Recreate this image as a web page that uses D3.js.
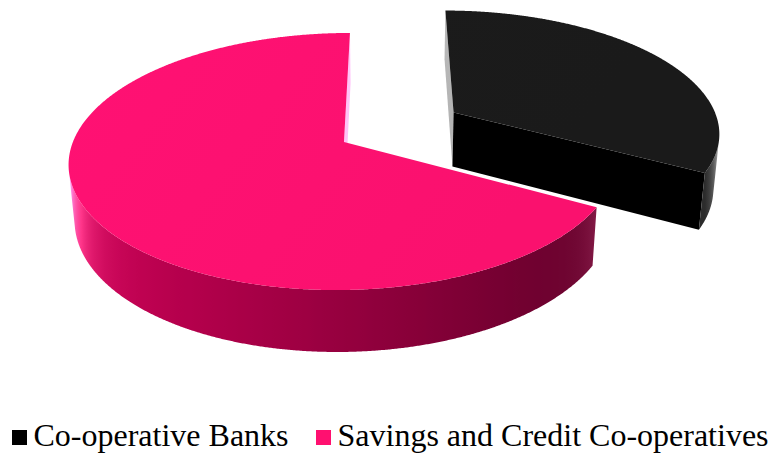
<!DOCTYPE html>
<html>
<head>
<meta charset="utf-8">
<script src="https://cdn.jsdelivr.net/npm/d3@7"></script>
<style>
  html, body { margin: 0; padding: 0; background: #ffffff; }
  svg { display: block; }
</style>
</head>
<body>
<svg id="chart" width="774" height="453"></svg>
<script>
// ---- data -------------------------------------------------------------
const categories = ["Co-operative Banks", "Savings and Credit Co-operatives"];
const shares = [33, 67];
const sliceColors = ["#1b1b1b", "#ff1170"];
const sideBase = ["#000000", "#ff006b"];
const legendColors = ["#000000", "#ff1070"];
const explodeBy = [0.48, 0];

// ---- 3D view ----------------------------------------------------------
const view = {
  vx: 389.5,      // screen x of the camera axis
  vy: 142,        // screen y of the pie centre
  focal: 1583,
  dist: 5.84,
  tilt: 27.6 * Math.PI / 180,
  offsetX: -0.168, // pie centre relative to the camera axis
  thickness: 0.235
};
const sT = Math.sin(view.tilt), cT = Math.cos(view.tilt);
const cam = { x: 0, y: view.dist * sT, z: view.dist * cT };

function project(p) {
  const Y = p.y * cT - p.z * sT;
  const W = p.z * cT + p.y * sT;
  const k = view.focal / (view.dist - W);
  return [view.vx + k * p.x, view.vy - k * Y];
}

// point on a slice: angle a (clockwise from the back), radius r, height h
function worldPoint(s, a, r, h) {
  return { x: view.offsetX + s.dx + r * Math.sin(a), y: h, z: s.dz - r * Math.cos(a) };
}

// simple lighting: key light from the front-left, weak fill from the right,
// plus a white rim where the wall turns away from the eye
const lightMain = 260 * Math.PI / 180;
const lightFill = 70 * Math.PI / 180;
function shade(base, n, p) {
  const V = { x: cam.x - p.x, y: cam.y - p.y, z: cam.z - p.z };
  const len = Math.hypot(V.x, V.y, V.z);
  const ndv = Math.max(0, (n.x * V.x + n.y * V.y + n.z * V.z) / len);
  const ang = Math.atan2(n.x, -n.z);
  const d1 = (1 + Math.cos(ang - lightMain)) / 2;
  const d2 = Math.pow((1 + Math.cos(ang - lightFill)) / 2, 8);
  const b = 0.30 + 0.50 * d1 + 0.25 * d2;
  const rim = 0.9 * Math.pow(1 - ndv, 6);
  const c = d3.rgb(base);
  return d3.rgb(
    Math.min(255, c.r * b + 255 * rim),
    Math.min(255, c.g * b + 255 * rim),
    Math.min(255, c.b * b + 255 * rim)
  ).formatHex();
}
function facing(n, p) {
  return n.x * (cam.x - p.x) + n.y * (cam.y - p.y) + n.z * (cam.z - p.z) > 0;
}

// ---- layout -----------------------------------------------------------
const pie = d3.pie().sort(null).value(d => d)(shares);
const slices = pie.map((d, i) => {
  const mid = (d.startAngle + d.endAngle) / 2;
  return {
    i, a0: d.startAngle, a1: d.endAngle,
    dx: explodeBy[i] * Math.sin(mid),
    dz: -explodeBy[i] * Math.cos(mid)
  };
});

const svg = d3.select("#chart");
const defs = svg.append("defs");
const line = d3.line();
const H = -view.thickness;
const step = Math.PI / 720;

function arcPoints(s, from, to, h) {
  const n = Math.max(2, Math.ceil(Math.abs(to - from) / step));
  return d3.range(n + 1).map(k => from + (to - from) * k / n)
    .map(a => project(worldPoint(s, a, 1, h)));
}

function drawSlice(s) {
  const g = svg.append("g").attr("class", "slice slice-" + s.i);

  // flat cut faces
  [{ a: s.a0, n: { x: -Math.cos(s.a0), y: 0, z: -Math.sin(s.a0) } },
   { a: s.a1, n: { x: Math.cos(s.a1), y: 0, z: Math.sin(s.a1) } }].forEach(f => {
    const mid = worldPoint(s, f.a, 0.5, H / 2);
    if (!facing(f.n, mid)) return;
    const pts = [
      project(worldPoint(s, f.a, 0, 0)),
      project(worldPoint(s, f.a, 1, 0)),
      project(worldPoint(s, f.a, 1, H)),
      project(worldPoint(s, f.a, 0, H))
    ];
    const id = "cut" + s.i + "_" + Math.round(f.a * 1000);
    const gr = defs.append("linearGradient").attr("id", id)
      .attr("gradientUnits", "userSpaceOnUse")
      .attr("x1", pts[0][0]).attr("y1", pts[0][1])
      .attr("x2", pts[1][0]).attr("y2", pts[1][1]);
    gr.append("stop").attr("offset", 0).attr("stop-color", shade(sideBase[s.i], f.n, worldPoint(s, f.a, 0, H / 2)));
    gr.append("stop").attr("offset", 1).attr("stop-color", shade(sideBase[s.i], f.n, worldPoint(s, f.a, 1, H / 2)));
    g.append("path").attr("d", line(pts) + "Z").attr("fill", `url(#${id})`);
  });

  // curved outer wall: visible runs only
  const n = Math.ceil((s.a1 - s.a0) / step);
  const angles = d3.range(n + 1).map(k => s.a0 + (s.a1 - s.a0) * k / n);
  const runs = [];
  let cur = null;
  angles.forEach(a => {
    const nrm = { x: Math.sin(a), y: 0, z: -Math.cos(a) };
    const vis = facing(nrm, worldPoint(s, a, 1, H / 2));
    if (vis) { if (!cur) { cur = []; runs.push(cur); } cur.push(a); }
    else cur = null;
  });
  runs.forEach((run, ri) => {
    if (run.length < 2) return;
    const top = run.map(a => project(worldPoint(s, a, 1, 0)));
    const bot = run.map(a => project(worldPoint(s, a, 1, H))).reverse();
    const id = "wall" + s.i + "_" + ri;
    const x1 = top[0][0], x2 = top[top.length - 1][0];
    const gr = defs.append("linearGradient").attr("id", id)
      .attr("gradientUnits", "userSpaceOnUse")
      .attr("x1", x1).attr("y1", 0).attr("x2", x2).attr("y2", 0);
    let last = 0;
    run.forEach((a, k) => {
      if (k % 4 && k !== run.length - 1) return;
      const nrm = { x: Math.sin(a), y: 0, z: -Math.cos(a) };
      let off = (top[k][0] - x1) / (x2 - x1);
      off = Math.max(last, Math.min(1, off));
      last = off;
      gr.append("stop").attr("offset", off)
        .attr("stop-color", shade(sideBase[s.i], nrm, worldPoint(s, a, 1, H / 2)));
    });
    g.append("path").attr("d", line(top.concat(bot)) + "Z").attr("fill", `url(#${id})`);
  });

  // top face
  const rim = arcPoints(s, s.a0, s.a1, 0);
  const topPts = [project(worldPoint(s, 0, 0, 0))].concat(rim);
  const tid = "top" + s.i;
  const tg = defs.append("linearGradient").attr("id", tid)
    .attr("gradientUnits", "userSpaceOnUse")
    .attr("x1", 100).attr("y1", 30).attr("x2", 450).attr("y2", 300);
  const base = d3.rgb(sliceColors[s.i]);
  tg.append("stop").attr("offset", 0).attr("stop-color", base.brighter(0.08).formatHex());
  tg.append("stop").attr("offset", 1).attr("stop-color", base.darker(0.06).formatHex());
  g.append("path").attr("d", line(topPts) + "Z").attr("fill", `url(#${tid})`);
}

// back slice first
slices.slice().sort((a, b) => a.dz - b.dz).forEach(drawSlice);

// ---- legend -----------------------------------------------------------
const legendX = [12, 316];
const legend = svg.append("g").attr("class", "legend");
categories.forEach((c, i) => {
  legend.append("rect")
    .attr("x", legendX[i]).attr("y", 430).attr("width", 15).attr("height", 15)
    .attr("fill", legendColors[i]);
  legend.append("text")
    .attr("x", legendX[i] + 21.5).attr("y", 446)
    .attr("font-family", "'Liberation Serif', 'Times New Roman', serif")
    .attr("font-size", 32)
    .attr("fill", "#000")
    .text(c);
});
</script>
</body>
</html>
